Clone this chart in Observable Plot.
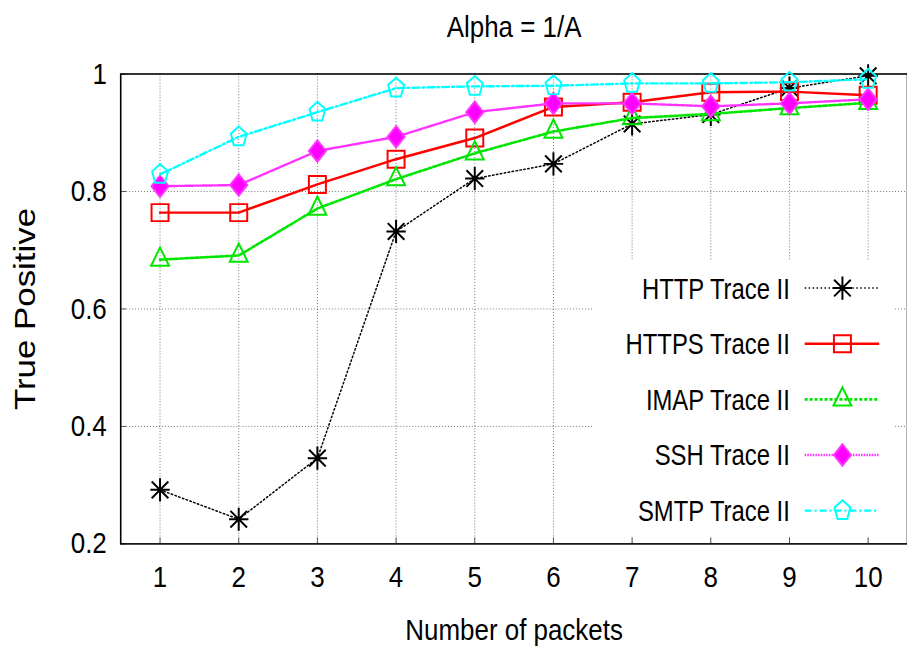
<!DOCTYPE html>
<html>
<head>
<meta charset="utf-8">
<script src="https://cdn.jsdelivr.net/npm/d3@7"></script>
<script src="https://cdn.jsdelivr.net/npm/@observablehq/plot@0.6"></script>
<style>
  html, body { margin: 0; padding: 0; background: #fff; }
  #chart { position: relative; width: 907px; height: 648px; overflow: hidden; }
  #chart svg { display: block; overflow: visible; }
</style>
</head>
<body>
<div id="chart"></div>
<script>
// True-positive rate by number of packets inspected, per trace
const packets = [1, 2, 3, 4, 5, 6, 7, 8, 9, 10];
const httpTP  = [0.292, 0.242, 0.346, 0.732, 0.822, 0.847, 0.915, 0.931, 0.976, 0.997];
const httpsTP = [0.764, 0.764, 0.812, 0.855, 0.891, 0.944, 0.952, 0.969, 0.970, 0.964];
const imapTP  = [0.684, 0.691, 0.771, 0.821, 0.865, 0.902, 0.925, 0.932, 0.942, 0.951];
const sshTP   = [0.809, 0.811, 0.869, 0.893, 0.935, 0.950, 0.950, 0.945, 0.950, 0.957];
const smtpTP  = [0.829, 0.893, 0.935, 0.976, 0.979, 0.980, 0.984, 0.984, 0.986, 0.991];
const seriesNames = ["HTTP Trace II", "HTTPS Trace II", "IMAP Trace II", "SSH Trace II", "SMTP Trace II"];
const xTickLabels = ["1", "2", "3", "4", "5", "6", "7", "8", "9", "10"];
const yTicks = [0.2, 0.4, 0.6, 0.8, 1];
const yTickLabels = ["0.2", "0.4", "0.6", "0.8", "1"];
const titleText = "Alpha = 1/A";
const xLabel = "Number of packets";
const yLabel = "True Positive";

// gnuplot-style point shapes; r is the nominal radius passed to Plot.dot
const rOf = (size) => Math.sqrt(size / Math.PI);
const asterisk = { draw(c, size) { const r = rOf(size), v = r * 1.25, h = r * 1.05, d = r * 0.9;
  c.moveTo(0, -v); c.lineTo(0, v); c.moveTo(-h, 0); c.lineTo(h, 0);
  c.moveTo(-d, -d); c.lineTo(d, d); c.moveTo(-d, d); c.lineTo(d, -d); } };
const square = { draw(c, size) { const r = rOf(size) * 0.92;
  c.moveTo(-r, -r); c.lineTo(r, -r); c.lineTo(r, r); c.lineTo(-r, r); c.closePath(); } };
const triangle = { draw(c, size) { const r = rOf(size);
  c.moveTo(0, -1.3 * r); c.lineTo(0.97 * r, 0.67 * r); c.lineTo(-0.97 * r, 0.67 * r); c.closePath(); } };
const diamond = { draw(c, size) { const r = rOf(size);
  c.moveTo(0, -1.15 * r); c.lineTo(0.92 * r, 0); c.lineTo(0, 1.15 * r); c.lineTo(-0.92 * r, 0); c.closePath(); } };
const pentagon = { draw(c, size) { const r = rOf(size);
  for (let k = 0; k < 5; ++k) {
    const a = (k * 72) * Math.PI / 180;
    const px = 0.9 * r * Math.sin(a), py = -1.12 * r * Math.cos(a);
    k ? c.lineTo(px, py) : c.moveTo(px, py);
  }
  c.closePath(); } };

const series = [
  { name: seriesNames[0], values: httpTP,  color: "#000000", width: 1.5, dash: "1.5,2.5", symbol: asterisk, fill: "none" },
  { name: seriesNames[1], values: httpsTP, color: "#ff0000", width: 2.5, dash: null,      symbol: square,   fill: "none" },
  { name: seriesNames[2], values: imapTP,  color: "#00e600", width: 2.6, dash: "3,2",     symbol: triangle, fill: "none" },
  { name: seriesNames[3], values: sshTP,   color: "#ff33ff", width: 2.4, dash: "1.5,1.2", symbol: diamond,  fill: "#ff00ff" },
  { name: seriesNames[4], values: smtpTP,  color: "#00ffff", width: 2.4, dash: "7,3,2,3", symbol: pentagon, fill: "none" }
];
const rows = series.map(s => packets.map((p, i) => ({ packets: p, tp: s.values[i], name: s.name })));

const font = "'Liberation Sans', Arial, Helvetica, sans-serif";

const marks = [
  Plot.gridX(packets, { stroke: "#000", strokeOpacity: 0.55, strokeDasharray: "1,2", strokeWidth: 1 }),
  Plot.gridY(yTicks.slice(1, -1), { stroke: "#000", strokeOpacity: 0.55, strokeDasharray: "1,2", strokeWidth: 1 }),
  Plot.axisX(packets, {
    anchor: "bottom", tickSize: -6, tickPadding: 28, fontSize: 30, strokeOpacity: 0.6,
    tickFormat: (d, i) => xTickLabels[i],
    label: xLabel, labelAnchor: "center", labelOffset: 97, labelArrow: "none"
  }),
  Plot.axisY(yTicks, {
    anchor: "left", tickSize: -6, tickPadding: 20, fontSize: 30, strokeOpacity: 0.6,
    tickFormat: (d, i) => yTickLabels[i],
    label: yLabel, labelAnchor: "center", labelOffset: 108, labelArrow: "none"
  }),
  Plot.text([titleText], { frameAnchor: "top", dy: -47, fontSize: 30, lineAnchor: "middle", text: d => d }),
  Plot.frame({ stroke: "#000", strokeWidth: 1.6 })
];
series.forEach((s, k) => {
  marks.push(Plot.line(rows[k], { x: "packets", y: "tp", stroke: s.color, strokeWidth: s.width, strokeDasharray: s.dash }));
  marks.push(Plot.dot(rows[k], { x: "packets", y: "tp", symbol: s.symbol, r: 9.3, stroke: s.color, fill: s.fill, strokeWidth: 2 }));
});

const plot = Plot.plot({
  width: 913,
  height: 648,
  marginLeft: 121,
  marginRight: 0,
  marginTop: 74,
  marginBottom: 101,
  style: { fontFamily: font, fontSize: "30px", color: "#000", background: "#fff" },
  x: { domain: [0.5, 10.5] },
  y: { domain: [0.2, 1] },
  marks
});
document.getElementById("chart").appendChild(plot);

// Narrow the Helvetica-style text horizontally (rotated text is stretched along its length)
const svgNS = "http://www.w3.org/2000/svg";
for (const t of Array.from(plot.querySelectorAll("text"))) {
  const g = document.createElementNS(svgNS, "g");
  t.parentNode.insertBefore(g, t);
  g.appendChild(t);
  const b = g.getBBox();
  const rotated = /rotate/.test(t.getAttribute("transform") || "");
  if (rotated) {
    const cy = b.y + b.height / 2;
    g.setAttribute("transform", `translate(0,${cy}) scale(1,1.17) translate(0,${-cy})`);
  } else {
    const anchor = getComputedStyle(t).textAnchor;
    const ax = anchor === "end" ? b.x + b.width : anchor === "start" ? b.x : b.x + b.width / 2;
    g.setAttribute("transform", `translate(${ax},0) scale(0.87,1) translate(${-ax},0)`);
  }
}

// Key: opaque box over the grid, labels right-aligned beside line + point samples
const svg = d3.select(plot);
const key = svg.append("g").attr("font-family", font).attr("font-size", 30);
key.append("rect").attr("x", 597).attr("y", 262).attr("width", 303).attr("height", 278).attr("fill", "#fff");
series.forEach((s, i) => {
  const y = 290 + i * 56;
  key.append("text")
    .attr("transform", `translate(795,${y}) scale(0.8,1)`)
    .attr("text-anchor", "end").attr("dy", "0.35em").attr("fill", "#000")
    .text(s.name);
  key.append("line")
    .attr("x1", 810).attr("x2", 885).attr("y1", y).attr("y2", y)
    .attr("stroke", s.color).attr("stroke-width", s.width)
    .attr("stroke-dasharray", s.dash);
  key.append("path")
    .attr("d", d3.symbol(s.symbol, 9.3 * 9.3 * Math.PI)())
    .attr("transform", `translate(848,${y})`)
    .attr("stroke", s.color).attr("stroke-width", 2).attr("fill", s.fill);
});
</script>
</body>
</html>
